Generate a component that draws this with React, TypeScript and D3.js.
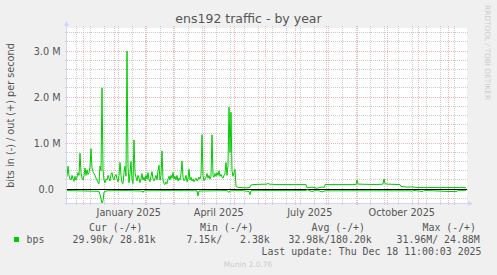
import React from 'react';
import * as d3 from 'd3';

const W = 497;
const H = 275;
const DAY = 86400000;
const START = Date.UTC(2024, 10, 14, 17); // left edge of plot
const END = START + 400 * DAY;

// outbound traffic (Mbit/s), one value per day from the left edge
const outDaily = [
  0.27, 0.5, 0.3, 0.22, 0.2, 0.3, 0.22, 0.17, 0.28, 0.2,
  0.26, 0.36, 0.3, 0.78, 0.36, 0.24, 0.2, 0.3, 0.46, 0.3,
  0.42, 0.32, 0.36, 0.48, 0.88, 0.46, 0.38, 0.34, 0.3, 0.24,
  0.2, 0.14, 0.12, 0.5, 0.4, 2.2, 0.42, 0.2, 0.14, 0.22,
  0.2, 0.3, 0.24, 0.18, 0.32, 0.36, 0.24, 0.2, 0.28, 0.32,
  0.22, 0.16, 0.3, 0.58, 0.3, 0.14, 0.12, 0.36, 0.5, 0.28,
  3.0, 0.5, 0.14, 0.34, 0.6, 0.2, 0.12, 1.07, 0.36, 0.26,
  0.18, 0.3, 0.24, 0.14, 0.22, 0.34, 0.2, 0.26, 0.18, 0.3,
  0.22, 0.36, 0.2, 0.16, 0.28, 0.38, 0.22, 0.18, 0.24, 0.3,
  0.2, 0.4, 0.52, 0.2, 0.3, 0.83, 0.2, 0.12, 0.1, 0.16,
  0.12, 0.22, 0.28, 0.2, 0.3, 0.24, 0.36, 0.22, 0.28, 0.2,
  0.3, 0.18, 0.24, 0.2, 0.34, 0.61, 0.26, 0.18, 0.22, 0.3,
  0.16, 0.24, 0.43, 0.2, 0.26, 0.18, 0.22, 0.16, 0.2, 0.24,
  0.18, 0.2, 0.26, 0.22, 0.3, 1.18, 0.3, 0.18, 0.22, 0.26,
  0.34, 0.24, 0.3, 0.22, 0.28, 1.18, 0.3, 0.26, 0.34, 0.28,
  0.36, 0.3, 0.4, 0.28, 0.32, 0.26, 0.24, 0.3, 0.34, 0.58,
  0.3, 0.5, 1.78, 0.8, 1.67, 0.4, 0.28, 0.36, 0.43, 0.06,
];

// outbound traffic after the spring change: [day, Mbit/s]
const outTail: [number, number][] = [
  [171, 0.04], [176, 0.03], [180, 0.03], [183, 0.04], [184, 0.09], [186, 0.1],
  [200, 0.11], [201, 0.13], [202, 0.11], [210, 0.1], [239, 0.1], [240, 0.03],
  [245, 0.045], [250, 0.02], [255, 0.05], [257, 0.03], [258, 0.1], [275, 0.1],
  [289, 0.1], [290, 0.2], [291, 0.11], [310, 0.1], [316, 0.11], [317, 0.22],
  [318, 0.12], [320, 0.11], [333, 0.1], [334, 0.06], [340, 0.045], [345, 0.05],
  [350, 0.035], [399, 0.035],
];

// inbound traffic (drawn negative): [day, Mbit/s]
const inPoints: [number, number][] = [
  [0, -0.03], [10, -0.035], [20, -0.04], [30, -0.045], [32, -0.05], [33, -0.12],
  [35, -0.3], [36, -0.25], [37, -0.06], [40, -0.035], [60, -0.03], [75, -0.04],
  [76, -0.07], [77, -0.035], [100, -0.03], [130, -0.035], [131, -0.15], [132, -0.04],
  [160, -0.03], [162, -0.07], [163, -0.035], [175, -0.03], [182, -0.05], [183, -0.12],
  [184, -0.03], [239, -0.03], [240, -0.01], [245, -0.05], [250, -0.02], [255, -0.06],
  [258, -0.035], [300, -0.035], [344, -0.035], [345, -0.05], [346, -0.025],
  [356, -0.05], [357, -0.025], [381, -0.05], [390, -0.05], [391, -0.025], [399, -0.025],
];

const yMajorTicks = [0, 1, 2, 3];
const yMajorLabels = ['0.0', '1.0 M', '2.0 M', '3.0 M'];
const yMinorTicks = [-0.2, 0.2, 0.4, 0.6, 0.8, 1.2, 1.4, 1.6, 1.8, 2.2, 2.4, 2.6, 2.8, 3.2, 3.4];
const xLabelMonths = [
  { label: 'January 2025', date: Date.UTC(2025, 0, 15, 12) },
  { label: 'April 2025', date: Date.UTC(2025, 3, 15, 12) },
  { label: 'July 2025', date: Date.UTC(2025, 6, 15, 12) },
  { label: 'October 2025', date: Date.UTC(2025, 9, 15, 12) },
];
const legendHeaders = ['Cur (-/+)', 'Min (-/+)', 'Avg (-/+)', 'Max (-/+)'];
const legendValues = ['29.90k/ 28.81k', '7.15k/   2.38k', '32.98k/180.20k', '31.96M/ 24.88M'];

const PL = 67, PR = 467, PT = 28, PB = 203;

export default function App() {
  const x = d3.scaleUtc().domain([new Date(START), new Date(END)]).range([PL, PR]);
  const y = d3.scaleLinear().domain([-0.3, 3.5]).range([PB, PT]);
  const px = (v: number) => Math.floor(v) + 0.5;

  const monthLines = d3.utcMonth.range(new Date(START), new Date(END));
  const minorV: Date[] = [];
  for (let t = Date.UTC(2024, 10, 24); t < END; t += 14 * DAY) minorV.push(new Date(t));

  const outPts: [number, number][] = outDaily.map((v, i) => [i, v] as [number, number]).concat(outTail);
  const line = d3.line<[number, number]>()
    .x(d => x(new Date(START + d[0] * DAY)))
    .y(d => y(d[1]));

  const gridGray = '#cccccc';
  const gridRed = '#f2b4b4';
  const axisCol = '#cfd6f8';
  const textCol = '#555';
  const sans = 'DejaVu Sans, sans-serif';
  const mono = 'DejaVu Sans Mono, monospace';
  const legX = [89, 200, 311.5, 422.5];
  const valX = [72.5, 186.5, 288.5, 396.5];

  return (
    <svg width={W} height={H} style={{ position: 'absolute', left: 0, top: 0, display: 'block' }}>
      <rect x={0} y={0} width={W} height={H} fill="#f0f0f0" />
      <rect x={PL} y={PT} width={PR - PL} height={PB - PT} fill="#fff" />
      <text x={248.5} y={22.5} textAnchor="middle" fontFamily={sans} fontSize={12.5} fill={textCol}>ens192 traffic - by year</text>
      <g shapeRendering="crispEdges">
        {minorV.map((d, i) => (
          <line key={'mv' + i} x1={px(x(d))} x2={px(x(d))} y1={PT - 2} y2={PB + 2} stroke={gridGray} strokeDasharray="1,1" />
        ))}
        {yMinorTicks.map((v, i) => (
          <line key={'mh' + i} x1={PL - 2} x2={PR + 2} y1={px(y(v))} y2={px(y(v))} stroke={gridGray} strokeDasharray="1,1" />
        ))}
        {monthLines.map((d, i) => (
          <line key={'Mv' + i} x1={px(x(d))} x2={px(x(d))} y1={PT - 2} y2={PB + 2} stroke={gridRed} strokeDasharray="1,1" />
        ))}
        {yMajorTicks.map((v, i) => (
          <line key={'Mh' + i} x1={PL - 2} x2={PR + 2} y1={px(y(v))} y2={px(y(v))} stroke={gridRed} strokeDasharray="1,1" />
        ))}
      </g>
      {yMajorTicks.map((v, i) => (
        <text key={'yl' + i} x={v === 0 ? 54 : 60.5} y={y(v) + 4} textAnchor="end" fontFamily={sans} fontSize={9.7} fill={textCol}>{yMajorLabels[i]}</text>
      ))}
      {xLabelMonths.map((m, i) => (
        <text key={'xl' + i} x={x(new Date(m.date))} y={216} textAnchor="middle" fontFamily={sans} fontSize={9.7} fill={textCol}>{m.label}</text>
      ))}
      <line x1={PL} x2={PR} y1={px(y(0))} y2={px(y(0))} stroke="#000" shapeRendering="crispEdges" />
      <path d={line(outPts) || ''} fill="none" stroke="#00cc00" strokeWidth={1} />
      <path d={line(inPoints) || ''} fill="none" stroke="#00cc00" strokeWidth={1} />
      <g shapeRendering="crispEdges">
        <line x1={PL - 0.5} x2={PL - 0.5} y1={PB + 2} y2={PT - 3} stroke={axisCol} />
        <line x1={PL - 2} x2={PR + 2} y1={PB + 0.5} y2={PB + 0.5} stroke={axisCol} />
      </g>
      <path d={`M${PL - 3},${PT - 2} L${PL + 2},${PT - 2} L${PL - 0.5},${PT - 7} Z`} fill={axisCol} />
      <path d={`M${PR + 1},${PB - 2} L${PR + 1},${PB + 3} L${PR + 6},${PB + 0.5} Z`} fill={axisCol} />
      <text transform={`translate(14,${(PT + PB) / 2}) rotate(-90)`} textAnchor="middle" fontFamily={sans} fontSize={9.7} fill={textCol}>bits in (-) / out (+) per second</text>
      <text transform="translate(485,5) rotate(90)" fontFamily={sans} fontSize={7.4} fill="#cccccc">RRDTOOL / TOBI OETIKER</text>
      {legendHeaders.map((h, i) => (
        <text key={'lh' + i} x={legX[i]} y={230.5} fontFamily={mono} fontSize={9.9} fill={textCol} style={{ whiteSpace: 'pre' }}>{h}</text>
      ))}
      <rect x={14} y={237} width={5} height={5} fill="#00cc00" />
      <text x={26.5} y={242.5} fontFamily={mono} fontSize={9.9} fill={textCol}>bps</text>
      {legendValues.map((v, i) => (
        <text key={'lv' + i} x={valX[i]} y={242.5} fontFamily={mono} fontSize={9.9} fill={textCol} style={{ whiteSpace: 'pre' }}>{v}</text>
      ))}
      <text x={261.5} y={254.5} fontFamily={mono} fontSize={9.9} fill={textCol} style={{ whiteSpace: 'pre' }}>Last update: Thu Dec 18 11:00:03 2025</text>
      <text x={248} y={266.5} textAnchor="middle" fontFamily={sans} fontSize={7.4} fill="#cccccc">Munin 2.0.76</text>
    </svg>
  );
}
